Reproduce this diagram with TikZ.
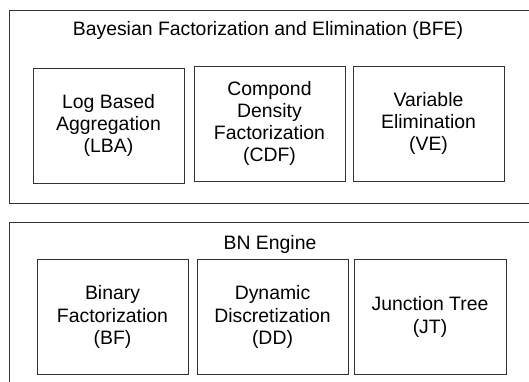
\documentclass[tikz,border=0pt]{standalone}
\usepackage{fontspec}
\setmainfont{Liberation Sans}
\tikzset{
    frame/.style={draw=black!80, line width=0.8pt, inner sep=0pt, anchor=north west},
    block/.style={draw=black!80, line width=0.8pt, inner sep=0pt, align=center,
        minimum width=151pt, minimum height=115pt},
}

\begin{document}
\begin{tikzpicture}[x=1pt, y=-1pt, font=\fontsize{19.4}{22.3}\selectfont]
    \useasboundingbox (0, 0) rectangle (529, 382);
    \clip (0, 0) rectangle (529, 382);
    % upper layer
    \node[frame, minimum width=560pt, minimum height=193pt] (bfe) at (9, 10) {};
    \node[anchor=base] (bfetitle) at (268, 36) {Bayesian Factorization and Elimination (BFE)};
    \node[block] (lba) at (108.5, 125.5) {Log Based\\Aggregation\\(LBA)};
    \node[block] (cdf) at (269.5, 123.5) {Compond\\Density\\Factorization\\(CDF)};
    \node[block] (ve) at (428.5, 123.5) {Variable\\Elimination\\(VE)};
    % lower layer
    \node[frame, minimum width=560pt, minimum height=200pt] (bne) at (9, 222) {};
    \node[anchor=base] (bnetitle) at (270, 249.5) {BN Engine};
    \node[block] (bf) at (112.5, 317) {Binary\\Factorization\\(BF)};
    \node[block] (dd) at (272.5, 317) {Dynamic\\Discretization\\(DD)};
    \node[block, minimum width=152pt] (jt) at (430, 317) {Junction Tree\\(JT)};
\end{tikzpicture}
\end{document}
